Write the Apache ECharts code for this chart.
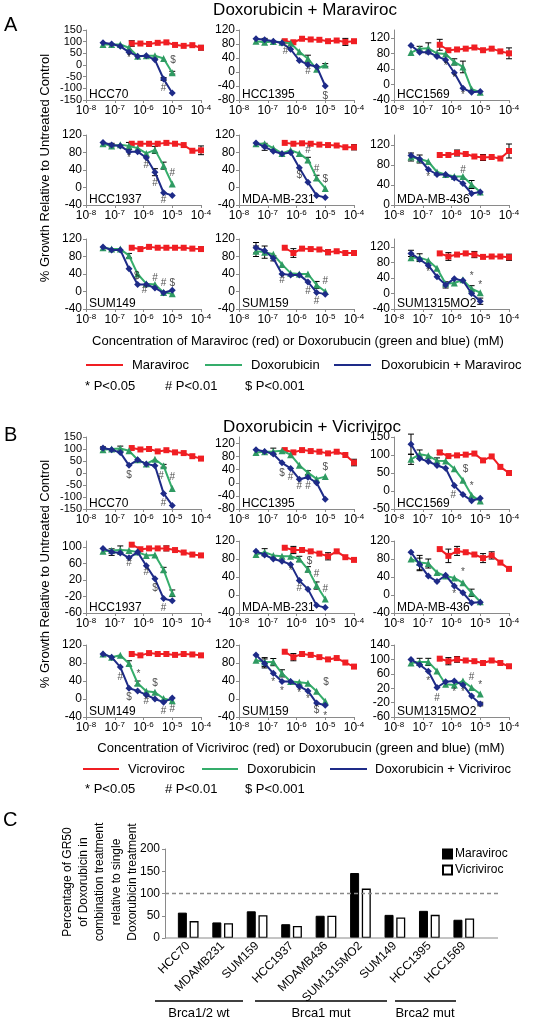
<!DOCTYPE html>
<html><head><meta charset="utf-8">
<script src="https://cdn.jsdelivr.net/npm/echarts@6/dist/echarts.min.js"></script>
<style>html,body{margin:0;padding:0;background:#fff}#c{width:539px;height:1020px}</style>
</head><body><div id="c"></div>
<script>
const FONT = '"Liberation Sans", Arial, sans-serif';
// concentrations (mM)
const doxConc = [3.9e-8, 7.8e-8, 1.56e-7, 3.125e-7, 6.25e-7, 1.25e-6, 2.5e-6, 5e-6, 1e-5];
const ccrConc = [3.9e-7, 7.8e-7, 1.56e-6, 3.125e-6, 6.25e-6, 1.25e-5, 2.5e-5, 5e-5, 1e-4];
const xTickExp = [-8, -7, -6, -5, -4];

// ---------- Panel A: Doxorubicin + Maraviroc ----------
const A_HCC70_mvc = [92, 92, 90, 95, 97, 86, 82, 85, 74];
const A_HCC70_dox = [88, 88, 88, 74, 38, 40, 40, 28, -33];
const A_HCC70_cmb = [95, 90, 80, 55, 38, 40, 22, -60, -120];
const A_HCC70_sig = [['*', 3, 28], ['$', 8.1, 22], ['#', 7, -98]];
const A_HCC70_err = [['r', 0, 12], ['r', 8, 10], ['g', 8, 6], ['b', 7, 6]];

const A_HCC1395_mvc = [88, 85, 95, 93, 92, 88, 90, 86, 88];
const A_HCC1395_dox = [88, 85, 87, 85, 82, 58, 38, 8, 20];
const A_HCC1395_cmb = [95, 92, 88, 83, 65, 33, 21, 16, -40];
const A_HCC1395_sig = [['#', 3.4, 60], ['#', 6, 2], ['$', 8, -68]];
const A_HCC1395_err = [['r', 7, 10], ['g', 6, 10], ['g', 8, 4], ['b', 1, 4]];

const A_HCC1569_mvc = [102, 88, 90, 92, 95, 88, 92, 85, 80];
const A_HCC1569_dox = [82, 92, 93, 80, 78, 58, 45, -12, -20];
const A_HCC1569_cmb = [100, 83, 83, 72, 63, 30, -10, -20, -18];
const A_HCC1569_sig = [['*', 4, 47], ['*', 5, 15], ['*', 6, -28]];
const A_HCC1569_err = [['r', 0, 14], ['r', 8, 14], ['g', 2, 14], ['g', 5, 8], ['g', 6, 15], ['g', 1, 6]];

const A_HCC1937_mvc = [100, 100, 100, 100, 102, 100, 97, 84, 85];
const A_HCC1937_dox = [100, 95, 98, 95, 90, 78, 86, 50, 8];
const A_HCC1937_cmb = [103, 97, 95, 82, 82, 68, 35, -12, -18];
const A_HCC1937_sig = [['*', 3, 66], ['#', 5, 52], ['#', 6, 10], ['#', 7, -30], ['#', 8, 32]];
const A_HCC1937_err = [['r', 8, 10], ['b', 6, 8], ['g', 3, 8], ['g', 6, 8], ['g', 7, 8], ['b', 1, 4]];

const A_MDA231_mvc = [102, 100, 101, 100, 98, 97, 96, 92, 92];
const A_MDA231_dox = [100, 100, 90, 78, 85, 78, 63, 22, -2];
const A_MDA231_cmb = [102, 93, 83, 77, 80, 45, 12, -18, -23];
const A_MDA231_sig = [['$', 5, 28], ['#', 6, 86], ['#', 7, 42], ['$', 8, 20]];
const A_MDA231_err = [['b', 1, 8], ['g', 6, 6], ['g', 7, 6], ['r', 8, 6]];

const A_MDA436_mvc = [100, 100, 104, 102, 97, 95, 96, 93, 108];
const A_MDA436_dox = [96, 92, 87, 66, 61, 57, 57, 41, 26];
const A_MDA436_cmb = [99, 92, 71, 61, 61, 54, 43, 23, 26];
const A_MDA436_sig = [['*', 2, 56], ['#', 6, 70]];
const A_MDA436_err = [['g', 0, 8], ['r', 8, 14], ['g', 7, 8], ['r', 2, 6], ['g', 1, 8], ['r', 5, 6]];

const A_SUM149_mvc = [100, 97, 102, 100, 100, 100, 100, 98, 97];
const A_SUM149_dox = [100, 97, 97, 82, 40, 18, 16, -2, -5];
const A_SUM149_cmb = [102, 95, 95, 52, 16, 16, 8, -3, 3];
const A_SUM149_sig = [['$', 3.9, 36], ['#', 4.8, 4], ['#', 6, 30], ['#', 7, 20], ['$', 8, 20]];
const A_SUM149_err = [['g', 3, 5], ['r', 8, 5]];

const A_SUM159_mvc = [100, 88, 98, 97, 96, 90, 92, 88, 88];
const A_SUM159_dox = [92, 90, 85, 62, 42, 40, 40, 15, 0];
const A_SUM159_cmb = [100, 93, 76, 40, 38, 38, 22, -2, -6];
const A_SUM159_sig = [['#', 3, 25], ['#', 6, 0], ['#', 7, -22], ['#', 8, 24]];
const A_SUM159_err = [['b', 0, 12], ['g', 0, 12], ['g', 1, 14], ['b', 2, 6], ['r', 1, 10], ['g', 7, 8], ['r', 5, 6]];

const A_SUM1315_mvc = [103, 95, 100, 103, 100, 94, 95, 95, 93];
const A_SUM1315_dox = [92, 92, 85, 65, 25, 27, 35, 12, 2];
const A_SUM1315_cmb = [103, 88, 72, 43, 22, 38, 33, 0, -20];
const A_SUM1315_sig = [['*', 2, 55], ['*', 7, 45], ['*', 8, 22]];
const A_SUM1315_err = [['b', 0, 8], ['g', 1, 10], ['r', 1, 10], ['r', 4, 8], ['b', 4, 8], ['g', 7, 8], ['b', 8, 8], ['r', 8, 8]];

// ---------- Panel B: Doxorubicin + Vicriviroc ----------
const B_HCC70_vcv = [104, 98, 100, 90, 95, 86, 83, 70, 60];
const B_HCC70_dox = [97, 100, 102, 93, 55, 38, 57, 30, -65];
const B_HCC70_cmb = [104, 97, 85, 32, 55, 38, 30, -85, -135];
const B_HCC70_sig = [['$', 3, -8], ['#', 6.7, -14], ['#', 8, -18], ['#', 7, -125]];
const B_HCC70_err = [['g', 2, 10], ['g', 7, 6], ['b', 0, 5]];

const B_HCC1395_vcv = [100, 93, 100, 97, 95, 90, 95, 85, 62];
const B_HCC1395_dox = [93, 95, 96, 98, 86, 54, 31, 12, 19];
const B_HCC1395_cmb = [101, 96, 88, 61, 44, 11, 17, 0, -50];
const B_HCC1395_sig = [['$', 3, 30], ['#', 4, 16], ['#', 5, -10], ['#', 6, -10], ['$', 8, 48]];
const B_HCC1395_err = [['g', 2, 10], ['r', 8, 10], ['g', 6, 6]];

const B_HCC1569_vcv = [107, 97, 99, 101, 104, 85, 96, 67, 50];
const B_HCC1569_dox = [88, 102, 98, 84, 83, 62, 30, -12, -28];
const B_HCC1569_cmb = [130, 90, 82, 71, 63, 15, -10, -27, -20];
const B_HCC1569_sig = [['$', 6.3, 60], ['*', 7, 14], ['#', 4.9, -12]];
const B_HCC1569_err = [['b', 0, 28], ['g', 0, 14], ['g', 1, 12], ['g', 3, 8], ['r', 0, 6]];

const B_HCC1937_vcv = [106, 95, 97, 97, 97, 93, 87, 82, 80];
const B_HCC1937_dox = [90, 92, 93, 92, 88, 80, 81, 45, -12];
const B_HCC1937_cmb = [97, 88, 86, 74, 88, 55, 23, -25, -30];
const B_HCC1937_sig = [['#', 3, 60], ['#', 5, 38], ['$', 6, 0], ['#', 7, -48]];
const B_HCC1937_err = [['b', 1, 8], ['g', 2, 10], ['g', 7, 6], ['g', 8, 8], ['r', 4, 6]];

const B_MDA231_vcv = [105, 100, 100, 97, 92, 86, 97, 84, 78];
const B_MDA231_dox = [90, 95, 88, 86, 86, 80, 57, 21, -9];
const B_MDA231_cmb = [97, 89, 80, 75, 68, 32, 13, -23, -28];
const B_MDA231_sig = [['*', 4, 52], ['$', 6.2, 76], ['#', 5, 14], ['#', 7, 46], ['#', 8, 12]];
const B_MDA231_err = [['g', 1, 8], ['g', 5, 6], ['g', 7, 8], ['r', 1, 8], ['r', 5, 8], ['g', 6, 6]];

const B_MDA436_vcv = [102, 87, 98, 95, 90, 82, 88, 72, 58];
const B_MDA436_dox = [80, 72, 70, 50, 42, 38, 27, 5, -15];
const B_MDA436_cmb = [95, 68, 42, 30, 44, 20, 5, -17, -16];
const B_MDA436_sig = [['*', 6, 50], ['*', 5, 2]];
const B_MDA436_err = [['b', 1, 14], ['g', 1, 16], ['g', 2, 10], ['r', 1, 15], ['r', 2, 10], ['r', 5, 10], ['r', 6, 8], ['g', 7, 8]];

const B_SUM149_vcv = [100, 97, 102, 100, 100, 98, 100, 99, 97];
const B_SUM149_dox = [100, 93, 97, 79, 35, 17, 15, 1, -4];
const B_SUM149_cmb = [100, 93, 71, 24, 18, 9, 0, -7, 2];
const B_SUM149_sig = [['#', 2, 48], ['$', 3, 4], ['*', 4.1, 55], ['#', 5, -6], ['$', 6, 36], ['#', 7, -28], ['#', 8, -22]];
const B_SUM149_err = [['g', 3, 6], ['g', 4, 5]];

const B_SUM159_vcv = [105, 93, 100, 98, 93, 88, 91, 81, 72];
const B_SUM159_dox = [86, 82, 82, 57, 39, 37, 35, 17, -5];
const B_SUM159_cmb = [98, 79, 57, 39, 39, 28, 18, -9, -14];
const B_SUM159_sig = [['*', 2, 38], ['*', 3, 18], ['*', 5, 13], ['*', 6, 0], ['$', 8.1, 38], ['$', 7, -26], ['*', 8, -38]];
const B_SUM159_err = [['b', 1, 10], ['g', 1, 10], ['g', 2, 8], ['g', 3, 8], ['r', 1, 8]];

const B_SUM1315_vcv = [102, 95, 100, 97, 95, 90, 97, 90, 81];
const B_SUM1315_dox = [90, 93, 93, 68, 31, 29, 40, 22, 4];
const B_SUM1315_cmb = [100, 85, 67, 22, 38, 40, 29, -2, -24];
const B_SUM1315_sig = [['*', 2, 40], ['#', 3, -8], ['*', 5, 8], ['*', 6, 8], ['#', 7, 51], ['*', 8, 28]];
const B_SUM1315_err = [['g', 1, 10], ['g', 2, 10], ['r', 1, 10], ['r', 2, 8], ['b', 8, 5]];

// ---------- Panel C ----------
const catsC = ['HCC70', 'MDAMB231', 'SUM159', 'HCC1937', 'MDAMB436', 'SUM1315MO2', 'SUM149', 'HCC1395', 'HCC1569'];
const gr50Maraviroc = [57, 35, 60, 31, 50, 146, 52, 61, 41];
const gr50Vicriviroc = [38, 33, 51, 27, 50, 111, 46, 52, 44];
const yTicksC = [0, 50, 100, 150, 200];

// ---------- layout ----------
const colLeft = [86, 239, 394], colW = 115;
const rowTop = { A: [30, 135, 239], B: [437, 541, 645] };
const rowH = { A: 70, B: 72 };
const RED = '#f01e23', GREEN = '#35ad6b', GREEN_M = '#2f9a62', BLUE = '#1e2b88';

const charts = [
  { p: 'A', r: 0, c: 0, name: 'HCC70', y: [-150, 150, 50], red: A_HCC70_mvc, green: A_HCC70_dox, blue: A_HCC70_cmb, sig: A_HCC70_sig, err: A_HCC70_err },
  { p: 'A', r: 0, c: 1, name: 'HCC1395', y: [-80, 120, 40], red: A_HCC1395_mvc, green: A_HCC1395_dox, blue: A_HCC1395_cmb, sig: A_HCC1395_sig, err: A_HCC1395_err },
  { p: 'A', r: 0, c: 2, name: 'HCC1569', y: [-40, 140, 40], red: A_HCC1569_mvc, green: A_HCC1569_dox, blue: A_HCC1569_cmb, sig: A_HCC1569_sig, err: A_HCC1569_err },
  { p: 'A', r: 1, c: 0, name: 'HCC1937', y: [-40, 120, 40], red: A_HCC1937_mvc, green: A_HCC1937_dox, blue: A_HCC1937_cmb, sig: A_HCC1937_sig, err: A_HCC1937_err },
  { p: 'A', r: 1, c: 1, name: 'MDA-MB-231', y: [-40, 120, 40], red: A_MDA231_mvc, green: A_MDA231_dox, blue: A_MDA231_cmb, sig: A_MDA231_sig, err: A_MDA231_err },
  { p: 'A', r: 1, c: 2, name: 'MDA-MB-436', y: [0, 140, 40], red: A_MDA436_mvc, green: A_MDA436_dox, blue: A_MDA436_cmb, sig: A_MDA436_sig, err: A_MDA436_err },
  { p: 'A', r: 2, c: 0, name: 'SUM149', y: [-40, 120, 40], red: A_SUM149_mvc, green: A_SUM149_dox, blue: A_SUM149_cmb, sig: A_SUM149_sig, err: A_SUM149_err },
  { p: 'A', r: 2, c: 1, name: 'SUM159', y: [-40, 120, 40], red: A_SUM159_mvc, green: A_SUM159_dox, blue: A_SUM159_cmb, sig: A_SUM159_sig, err: A_SUM159_err },
  { p: 'A', r: 2, c: 2, name: 'SUM1315MO2', y: [-40, 140, 40], red: A_SUM1315_mvc, green: A_SUM1315_dox, blue: A_SUM1315_cmb, sig: A_SUM1315_sig, err: A_SUM1315_err },
  { p: 'B', r: 0, c: 0, name: 'HCC70', y: [-150, 150, 50], red: B_HCC70_vcv, green: B_HCC70_dox, blue: B_HCC70_cmb, sig: B_HCC70_sig, err: B_HCC70_err },
  { p: 'B', r: 0, c: 1, name: 'HCC1395', y: [-80, 140, 40], red: B_HCC1395_vcv, green: B_HCC1395_dox, blue: B_HCC1395_cmb, sig: B_HCC1395_sig, err: B_HCC1395_err },
  { p: 'B', r: 0, c: 2, name: 'HCC1569', y: [-50, 150, 50], red: B_HCC1569_vcv, green: B_HCC1569_dox, blue: B_HCC1569_cmb, sig: B_HCC1569_sig, err: B_HCC1569_err },
  { p: 'B', r: 1, c: 0, name: 'HCC1937', y: [-60, 115, 40], red: B_HCC1937_vcv, green: B_HCC1937_dox, blue: B_HCC1937_cmb, sig: B_HCC1937_sig, err: B_HCC1937_err },
  { p: 'B', r: 1, c: 1, name: 'MDA-MB-231', y: [-40, 120, 40], red: B_MDA231_vcv, green: B_MDA231_dox, blue: B_MDA231_cmb, sig: B_MDA231_sig, err: B_MDA231_err },
  { p: 'B', r: 1, c: 2, name: 'MDA-MB-436', y: [-40, 120, 40], red: B_MDA436_vcv, green: B_MDA436_dox, blue: B_MDA436_cmb, sig: B_MDA436_sig, err: B_MDA436_err },
  { p: 'B', r: 2, c: 0, name: 'SUM149', y: [-40, 120, 40], red: B_SUM149_vcv, green: B_SUM149_dox, blue: B_SUM149_cmb, sig: B_SUM149_sig, err: B_SUM149_err },
  { p: 'B', r: 2, c: 1, name: 'SUM159', y: [-40, 120, 40], red: B_SUM159_vcv, green: B_SUM159_dox, blue: B_SUM159_cmb, sig: B_SUM159_sig, err: B_SUM159_err },
  { p: 'B', r: 2, c: 2, name: 'SUM1315MO2', y: [-60, 140, 40], red: B_SUM1315_vcv, green: B_SUM1315_dox, blue: B_SUM1315_cmb, sig: B_SUM1315_sig, err: B_SUM1315_err }
];

const grids = [], xAxes = [], yAxes = [], series = [], graphics = [];
const AX = '#8a8a8a';

function txt(x, y, s, size, opts) {
  opts = opts || {};
  const style = {
    text: s, fill: opts.color || '#000', fontSize: size, fontFamily: FONT,
    textAlign: opts.align || 'left', align: opts.align || 'left',
    textVerticalAlign: opts.valign || 'middle', verticalAlign: opts.valign || 'middle'
  };
  if (opts.lineHeight) style.lineHeight = opts.lineHeight;
  const el = { type: 'text', x: x, y: y, style: style, z: 100 };
  if (opts.rotation) el.rotation = opts.rotation;
  return el;
}
function hline(x1, x2, y, color, w, dash) {
  const ls = { stroke: color, lineWidth: w };
  if (dash) ls.lineDash = dash;
  return { type: 'line', shape: { x1: x1, y1: y, x2: x2, y2: y }, style: ls, z: 100 };
}

charts.forEach((ch, i) => {
  const left = colLeft[ch.c], top = rowTop[ch.p][ch.r], h = rowH[ch.p];
  grids.push({ left: left, top: top, width: colW, height: h });
  xAxes.push({
    type: 'log', logBase: 10, min: 1e-8, max: 1e-4, gridIndex: i,
    axisLine: { show: true, onZero: false, lineStyle: { color: AX, width: 1 } },
    axisTick: { show: true, length: 3, lineStyle: { color: AX } },
    minorTick: { show: false }, splitLine: { show: false },
    axisLabel: {
      margin: 4, hideOverlap: false,
      formatter: v => { const e = Math.round(Math.log10(v)); return xTickExp.indexOf(e) >= 0 ? '{a|10}{b|' + e + '}' : ''; },
      rich: {
        a: { fontSize: 12, fontFamily: FONT, color: '#000', lineHeight: 14 },
        b: { fontSize: 8, fontFamily: FONT, color: '#000', lineHeight: 8, verticalAlign: 'top' }
      }
    }
  });
  const [mn, mx, iv] = ch.y;
  const spacing = h * iv / (mx - mn);
  const fs = spacing < 12.5 ? 11 : 12;
  yAxes.push({
    type: 'value', gridIndex: i, min: mn, max: mx, interval: iv,
    axisLine: { show: true, onZero: false, lineStyle: { color: AX, width: 1 } },
    axisTick: { show: true, length: 3, lineStyle: { color: AX } },
    splitLine: { show: false },
    axisLabel: { fontSize: fs, lineHeight: 10, fontFamily: FONT, color: '#000', margin: 4, hideOverlap: false,
      showMinLabel: true, showMaxLabel: ((mx - mn) % iv === 0) }
  });
  const sets = { r: [ccrConc, ch.red], g: [doxConc, ch.green], b: [doxConc, ch.blue] };
  series.push({
    type: 'custom', xAxisIndex: i, yAxisIndex: i, z: 1, silent: true,
    data: ch.err.map(e => [sets[e[0]][0][e[1]], sets[e[0]][1][e[1]], e[2]]),
    renderItem: (params, api) => {
      const x = api.value(0), y = api.value(1), e = api.value(2);
      const t = api.coord([x, y + e]), b = api.coord([x, y - e]);
      const w = 3, st = { stroke: '#000', lineWidth: 1 };
      return { type: 'group', children: [
        { type: 'line', shape: { x1: t[0], y1: t[1], x2: b[0], y2: b[1] }, style: st },
        { type: 'line', shape: { x1: t[0] - w, y1: t[1], x2: t[0] + w, y2: t[1] }, style: st },
        { type: 'line', shape: { x1: b[0] - w, y1: b[1], x2: b[0] + w, y2: b[1] }, style: st }
      ] };
    }
  });
  series.push({
    type: 'line', xAxisIndex: i, yAxisIndex: i, z: 2,
    data: ch.red.map((v, k) => [ccrConc[k], v]),
    symbol: 'rect', symbolSize: 6, lineStyle: { color: RED, width: 2 }, itemStyle: { color: RED }
  });
  series.push({
    type: 'line', xAxisIndex: i, yAxisIndex: i, z: 3,
    data: ch.green.map((v, k) => [doxConc[k], v]),
    symbol: 'triangle', symbolSize: 7, lineStyle: { color: GREEN, width: 2 }, itemStyle: { color: GREEN_M }
  });
  series.push({
    type: 'line', xAxisIndex: i, yAxisIndex: i, z: 4,
    data: ch.blue.map((v, k) => [doxConc[k], v]),
    symbol: 'diamond', symbolSize: 7, lineStyle: { color: BLUE, width: 2 }, itemStyle: { color: BLUE }
  });
  series.push({
    type: 'scatter', xAxisIndex: i, yAxisIndex: i, z: 5, silent: true,
    symbolSize: 1, itemStyle: { color: 'rgba(0,0,0,0)' },
    data: ch.sig.map(s => ({ value: [doxConc[0] * Math.pow(2, s[1]), s[2]], name: s[0] })),
    label: { show: true, position: 'inside', formatter: p => p.name, fontSize: 10, fontFamily: FONT, color: '#222' }
  });
  graphics.push(txt(left + 3, top + h + 1, ch.name, 12, { valign: 'bottom' }));
});

// ---------- Panel C bar chart ----------
const gC = charts.length;
grids.push({ left: 171, top: 849, width: 310, height: 89 });
xAxes.push({
  type: 'category', gridIndex: gC, data: catsC,
  axisLine: { show: false }, axisTick: { show: false },
  axisLabel: { rotate: 45, interval: 0, fontSize: 12, fontFamily: FONT, color: '#000', margin: 6 }
});
yAxes.push({
  type: 'value', gridIndex: gC, min: yTicksC[0], max: yTicksC[yTicksC.length - 1], interval: yTicksC[1] - yTicksC[0], offset: 6,
  axisLine: { show: true, lineStyle: { color: AX } }, axisTick: { show: true, length: 3, lineStyle: { color: AX } },
  splitLine: { show: false }, axisLabel: { fontSize: 12, fontFamily: FONT, color: '#000', margin: 5 }
});
series.push({
  type: 'bar', name: 'Maraviroc', xAxisIndex: gC, yAxisIndex: gC, data: gr50Maraviroc,
  barWidth: 9, barGap: '30%', itemStyle: { color: '#000', borderColor: '#000', borderWidth: 1 }
});
series.push({
  type: 'bar', name: 'Vicriviroc', xAxisIndex: gC, yAxisIndex: gC, data: gr50Vicriviroc,
  barWidth: 9, barGap: '30%', itemStyle: { color: '#fff', borderColor: '#000', borderWidth: 1.3 }
});

// ---------- texts ----------
graphics.push(txt(305, 10, 'Doxorubicin + Maraviroc', 17, { align: 'center' }));
graphics.push(txt(4, 25, 'A', 20));
graphics.push(txt(45, 168, '% Growth Relative to Untreated Control', 13, { align: 'center', rotation: Math.PI / 2 }));
graphics.push(txt(298, 341, 'Concentration of Maraviroc (red) or Doxorubucin (green and blue) (mM)', 13, { align: 'center' }));
graphics.push(hline(86, 123, 365, RED, 2));
graphics.push(txt(132, 365, 'Maraviroc', 13));
graphics.push(hline(205, 242, 365, GREEN, 2));
graphics.push(txt(251, 365, 'Doxorubicin', 13));
graphics.push(hline(334, 371, 365, BLUE, 2));
graphics.push(txt(381, 365, 'Doxorubicin + Maraviroc', 13));
graphics.push(txt(85, 386, '* P<0.05', 13));
graphics.push(txt(165, 386, '# P<0.01', 13));
graphics.push(txt(245, 386, '$ P<0.001', 13));

graphics.push(txt(312, 427, 'Doxorubicin + Vicriviroc', 17, { align: 'center' }));
graphics.push(txt(4, 435, 'B', 20));
graphics.push(txt(45, 574, '% Growth Relative to Untreated Control', 13, { align: 'center', rotation: Math.PI / 2 }));
graphics.push(txt(301, 748, 'Concentration of Vicriviroc (red) or Doxorubucin (green and blue) (mM)', 13, { align: 'center' }));
graphics.push(hline(83, 119, 769, RED, 2));
graphics.push(txt(128, 769, 'Vicroviroc', 13));
graphics.push(hline(202, 238, 769, GREEN, 2));
graphics.push(txt(247, 769, 'Doxorubicin', 13));
graphics.push(hline(330, 367, 769, BLUE, 2));
graphics.push(txt(375, 769, 'Doxorubicin + Vicriviroc', 13));
graphics.push(txt(85, 789, '* P<0.05', 13));
graphics.push(txt(165, 789, '# P<0.01', 13));
graphics.push(txt(245, 789, '$ P<0.001', 13));

graphics.push(txt(3, 820, 'C', 20));
graphics.push(txt(100, 882, 'Percentage of GR50\nof Doxorubicin in\ncombination treatment\nrelative to single\nDoxorubicin treatment', 12,
  { align: 'center', rotation: Math.PI / 2, lineHeight: 16.3 }));
graphics.push(hline(155, 243, 1001, '#000', 1.5));
graphics.push(hline(255, 387, 1001, '#000', 1.5));
graphics.push(hline(395, 456, 1001, '#000', 1.5));
graphics.push(txt(199, 1013, 'Brca1/2 wt', 13, { align: 'center' }));
graphics.push(txt(321, 1013, 'Brca1 mut', 13, { align: 'center' }));
graphics.push(txt(425, 1013, 'Brca2 mut', 13, { align: 'center' }));

const chart = echarts.init(document.getElementById('c'), null, { renderer: 'canvas', width: 539, height: 1020 });
chart.setOption({
  animation: false,
  backgroundColor: '#fff',
  textStyle: { fontFamily: FONT },
  grid: grids, xAxis: xAxes, yAxis: yAxes, series: series,
  legend: {
    data: ['Maraviroc', 'Vicriviroc'], orient: 'vertical', left: 437, top: 843,
    itemWidth: 9, itemHeight: 9, itemGap: 4, icon: 'rect',
    textStyle: { fontSize: 12, fontFamily: FONT, color: '#000', padding: [0, 0, 0, -2] }
  },
  graphic: graphics
});
// baseline and reference line of panel C, positioned through the value axis
const yZero = chart.convertToPixel({ yAxisIndex: gC }, 0);
const yHundred = chart.convertToPixel({ yAxisIndex: gC }, 100);
graphics.push(hline(165, 498, yZero, AX, 1));
graphics.push(hline(165, 498, yHundred, '#8a8a8a', 1.5, [4, 3]));
chart.setOption({ graphic: graphics });
</script></body></html>
